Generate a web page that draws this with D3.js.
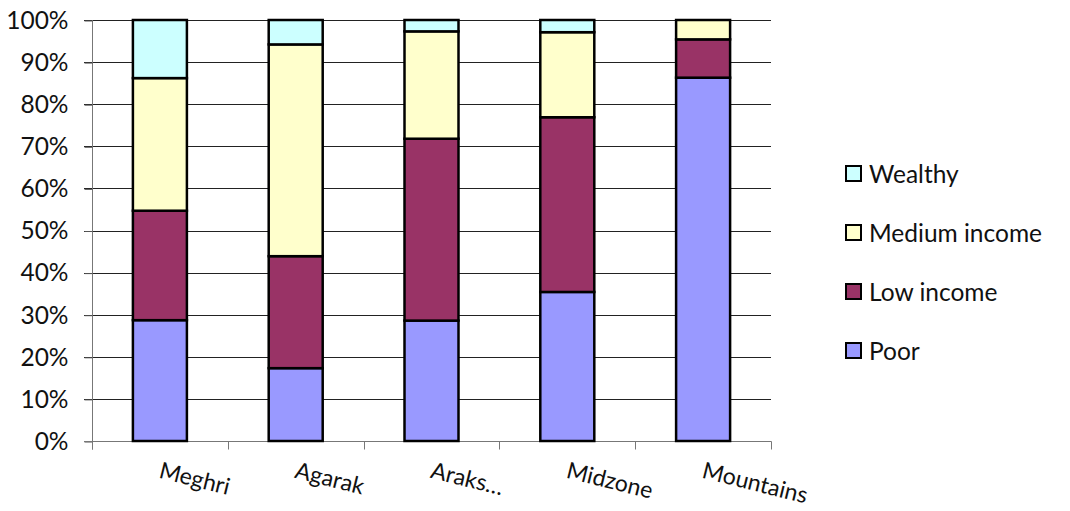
<!DOCTYPE html>
<html><head><meta charset="utf-8">
<script src="https://cdn.jsdelivr.net/npm/d3@7"></script>
<style>html,body{margin:0;padding:0;background:#fff;}svg{display:block;font-family:Lato,"Open Sans",sans-serif;}</style>
</head><body>
<svg id="c" width="1070" height="511"></svg>
<script>
const categories = ["Meghri", "Agarak", "Araks…", "Midzone", "Mountains"];
const seriesNames = ["Poor", "Low income", "Medium income", "Wealthy"];
const poor = [28.7, 17.3, 28.6, 35.4, 86.3];
const lowIncome = [26.0, 26.6, 43.2, 41.5, 9.1];
const mediumIncome = [31.5, 50.3, 25.5, 20.2, 4.6];
const wealthy = [13.8, 5.8, 2.7, 2.9, 0];
const yTicks = [0, 10, 20, 30, 40, 50, 60, 70, 80, 90, 100];
const colors = ["#9999FF", "#993366", "#FFFFCC", "#CCFFFF"];

const seriesValues = [poor, lowIncome, mediumIncome, wealthy];
const rows = categories.map((c, i) => {
  const r = {cat: c};
  seriesNames.forEach((s, j) => r[s] = seriesValues[j][i]);
  return r;
});
const stack = d3.stack().keys(seriesNames)(rows);

const svg = d3.select("#c");
const L = 92, R = 771, T = 20, B = 441;
const FS = 24.5;
const x = d3.scaleBand().domain(categories).range([L, R]).paddingInner(0).paddingOuter(0);
const y = d3.scaleLinear().domain([0, 100]).range([B, T]);

// gridlines
svg.append("g").selectAll("line").data(yTicks.filter(d => d > 0)).join("line")
  .attr("x1", 84).attr("x2", R).attr("y1", d => Math.round(y(d)) + 0.5).attr("y2", d => Math.round(y(d)) + 0.5)
  .attr("stroke", "#222").attr("stroke-width", 1);

// y axis
const yAxis = d3.axisLeft(y).tickValues(yTicks).tickFormat(d => d + "%").tickSize(8).tickPadding(16);
const gy = svg.append("g").attr("transform", `translate(${L + 0.5},0.5)`).call(yAxis);
gy.select(".domain").attr("stroke", "#777").attr("d", `M0,${T - 0.5}V${B + 8}`);
gy.selectAll(".tick line").attr("stroke", "#555");
gy.selectAll(".tick text").attr("font-size", FS).attr("fill", "#111").attr("font-family", "Lato");

// x axis
const gx = svg.append("g").attr("transform", `translate(0,${B + 0.5})`);
gx.append("line").attr("x1", 84).attr("x2", R + 0.5).attr("y1", 0).attr("y2", 0).attr("stroke", "#777");
const bounds = categories.map(c => x(c)).concat([x(categories[categories.length - 1]) + x.bandwidth()]);
gx.selectAll("line.t").data(bounds).join("line").attr("class", "t")
  .attr("x1", d => Math.round(d) + 0.5).attr("x2", d => Math.round(d) + 0.5).attr("y1", 0).attr("y2", 8).attr("stroke", "#777");
gx.selectAll("text").data(categories).join("text")
  .attr("transform", d => `translate(${x(d) + x.bandwidth() / 2 - 2},${477 - B}) rotate(14)`)
  .attr("font-size", FS - 1.5).attr("fill", "#111").attr("text-anchor", "start").text(d => d);

// bars
const bw = 54;
svg.append("g").selectAll("g").data(stack).join("g")
  .attr("fill", (d, i) => colors[i])
  .selectAll("rect").data(d => d.filter(p => p[1] - p[0] > 0)).join("rect")
  .attr("x", d => x(d.data.cat) + x.bandwidth() / 2 - bw / 2)
  .attr("width", bw)
  .attr("y", d => y(d[1]))
  .attr("height", d => y(d[0]) - y(d[1]))
  .attr("stroke", "#000").attr("stroke-width", 2.5);

// legend
const legendOrder = ["Wealthy", "Medium income", "Low income", "Poor"];
const lg = svg.append("g");
legendOrder.forEach((s, i) => {
  const cy = 174 + i * 59;
  lg.append("rect").attr("x", 846).attr("y", cy - 8).attr("width", 15).attr("height", 15)
    .attr("fill", colors[seriesNames.indexOf(s)]).attr("stroke", "#000").attr("stroke-width", 2);
  lg.append("text").attr("x", 869).attr("y", cy).attr("dy", "0.36em").attr("font-size", FS).attr("fill", "#111").text(s);
});
</script>
</body></html>
